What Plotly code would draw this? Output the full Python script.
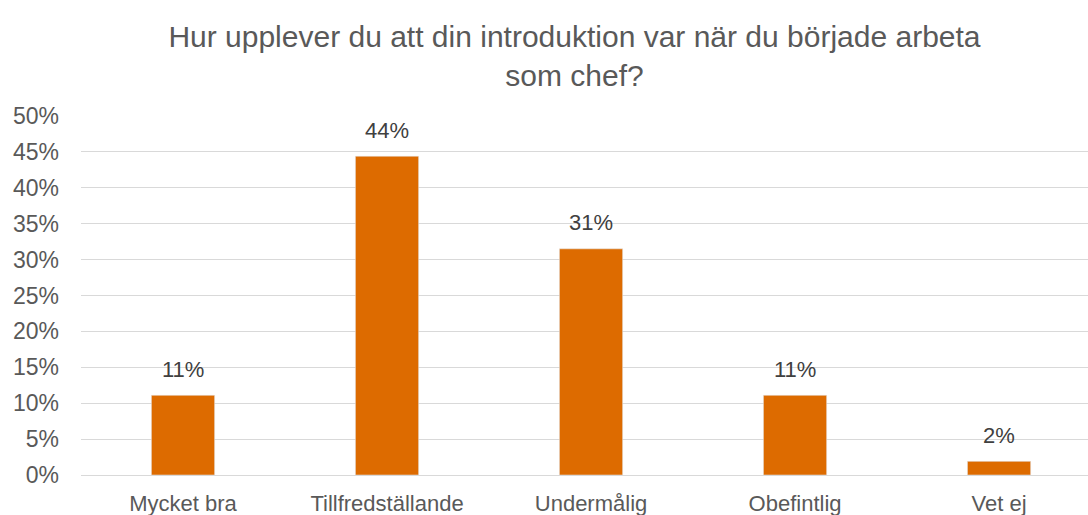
import plotly.graph_objects as go

categories = ["Mycket bra", "Tillfredställande", "Undermålig", "Obefintlig", "Vet ej"]
values = [11.1, 44.4, 31.5, 11.1, 1.9]
labels = ["11%", "44%", "31%", "11%", "2%"]
tick_vals = [0, 5, 10, 15, 20, 25, 30, 35, 40, 45, 50]
tick_text = [f"{v}%" for v in tick_vals]

FONT = "Liberation Sans, Arial"

fig = go.Figure(go.Bar(
    x=categories, y=values,
    marker=dict(color="#DD6B00"), width=0.31, hoverinfo="x+y",
))
for c, v, t in zip(categories, values, labels):
    fig.add_annotation(x=c, y=v, text=t, showarrow=False, yanchor="middle",
                       yshift=26, font=dict(family=FONT, size=22, color="#404040"))

fig.update_layout(
    width=1088, height=515,
    margin=dict(l=81, r=0, t=116, b=40),
    paper_bgcolor="white", plot_bgcolor="white",
    title=dict(text="Hur upplever du att din introduktion var när du började arbeta<br>som chef?",
               x=0.528, xanchor="center", y=0.909, yanchor="top",
               font=dict(family=FONT, size=30, color="#595959")),
    showlegend=False,
    font=dict(family=FONT, color="#595959"),
)
fig.update_xaxes(type="category", range=[-0.5, 4.436], showgrid=False,
                 showline=True, linecolor="#D9D9D9", linewidth=1,
                 tickfont=dict(size=22, color="#595959"), ticks="",
                 ticklabelstandoff=9, automargin=False)
fig.update_yaxes(range=[0, 50], tickvals=tick_vals, ticktext=tick_text,
                 gridcolor="#D9D9D9", gridwidth=1, zeroline=False,
                 tickfont=dict(size=23, color="#595959"), ticklabelstandoff=21,
                 automargin=False)
fig.write_html("out.html", config={"displayModeBar": False},
               post_script="document.body.style.margin='0';")
